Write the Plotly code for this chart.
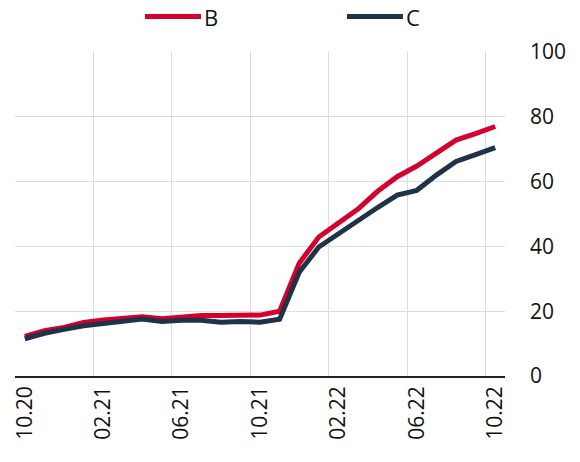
import plotly.graph_objects as go

months = ["10.20", "11.20", "12.20", "01.21", "02.21", "03.21", "04.21", "05.21", "06.21",
          "07.21", "08.21", "09.21", "10.21", "11.21", "12.21", "01.22", "02.22", "03.22",
          "04.22", "05.22", "06.22", "07.22", "08.22", "09.22", "10.22"]
series_b = [12.2, 14.0, 15.0, 16.5, 17.3, 17.8, 18.3, 17.7, 18.3, 18.7, 18.7, 18.9, 18.8,
            20.0, 34.8, 42.9, 47.2, 51.5, 57.0, 61.5, 64.8, 68.8, 72.8, 74.8, 77.0]
series_c = [11.5, 13.2, 14.4, 15.5, 16.2, 16.8, 17.6, 16.8, 17.2, 17.2, 16.6, 16.8, 16.6,
            17.5, 32.0, 39.8, 44.0, 48.0, 52.0, 55.8, 57.3, 62.0, 66.2, 68.3, 70.5]
tick_labels = ["10.20", "02.21", "06.21", "10.21", "02.22", "06.22", "10.22"]
y_ticks = [0, 20, 40, 60, 80, 100]
series_names = ["B", "C"]

RED = "#D6002F"
NAVY = "#1F3348"
colors = [RED, NAVY]

fig = go.Figure()
for name, vals, col in zip(series_names, [series_b, series_c], colors):
    fig.add_trace(go.Scatter(x=months, y=vals, name=name, mode="lines",
                             line=dict(color=col, width=5), showlegend=False))

FIG_W, FIG_H = 580, 462
# plot area in px: x 15..505, y 51..376
W_PLOT, H_PLOT, L, T = 490, 325, 15, 51
def px(xw):
    return (xw - L) / W_PLOT
def py(yw):
    return (T + H_PLOT - yw) / H_PLOT

legend_left = [145, 347]
LEG_Y = 16.5
for name, col, x0 in zip(series_names, colors, legend_left):
    fig.add_shape(type="line", xref="paper", yref="paper",
                  x0=px(x0), x1=px(x0 + 56), y0=py(LEG_Y), y1=py(LEG_Y),
                  line=dict(color=col, width=5))
    fig.add_annotation(xref="paper", yref="paper", x=px(x0 + 58), y=py(LEG_Y),
                       text=name, showarrow=False, xanchor="left", yanchor="middle",
                       borderpad=0, font=dict(size=22, color="#111111"))

fig.update_layout(
    width=FIG_W, height=FIG_H,
    margin=dict(l=L, r=FIG_W - L - W_PLOT, t=T, b=FIG_H - T - H_PLOT),
    paper_bgcolor="white", plot_bgcolor="white",
    font=dict(family="Open Sans", size=21, color="#111111"),
    showlegend=False,
)
fig.update_xaxes(
    type="category", categoryorder="array", categoryarray=months,
    tickmode="array", tickvals=tick_labels, ticktext=tick_labels,
    tickson="boundaries", tickangle=-90, range=[-0.5, 24.5],
    showgrid=True, gridcolor="#DDDDDD", gridwidth=1,
    showline=True, linecolor="#222222", linewidth=1.5,
    ticks="", zeroline=False, automargin=False,
)
fig.update_yaxes(
    side="right", range=[0, 100.3], tickvals=y_ticks,
    showgrid=True, gridcolor="#DDDDDD", gridwidth=1,
    zeroline=False, showline=False, ticks="", ticklabelstandoff=24,
    automargin=False,
)

fig.write_html("out.html",
               config={"displayModeBar": False},
               post_script="document.body.style.margin='0px';"
                           "document.body.style.overflow='hidden';")
